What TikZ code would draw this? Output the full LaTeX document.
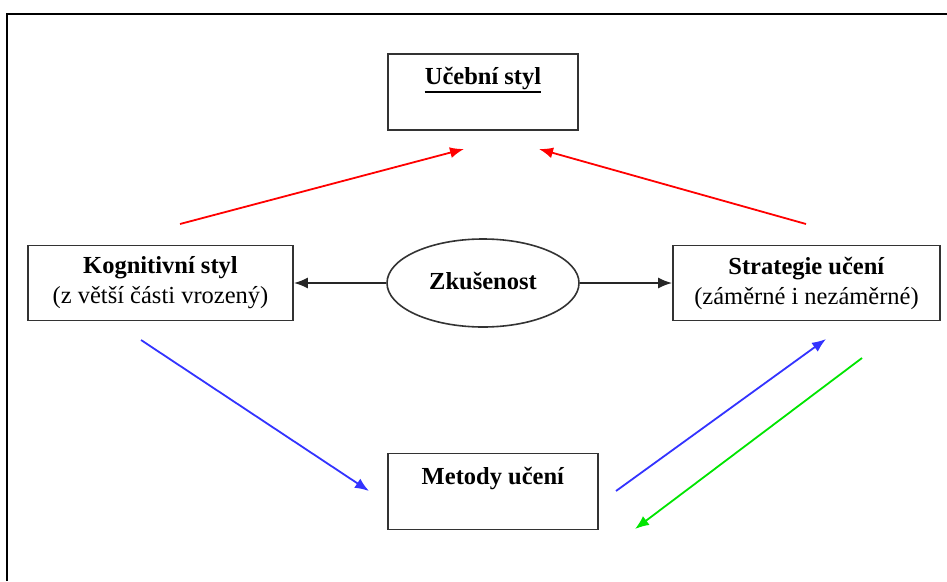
\documentclass[tikz,border=0pt]{standalone}
\usepackage{fontspec}
\setmainfont{Liberation Serif}
\usetikzlibrary{arrows.meta,shapes.geometric}
\begin{document}
\begin{tikzpicture}[x=1pt,y=-1pt,
  box/.style={draw=black!80,line width=1.8pt,rectangle,inner sep=0pt},
  oval/.style={draw=black!80,line width=1.6pt,ellipse,inner sep=0pt},
  txt/.style={inner sep=0pt,align=center,font=\fontsize{24.5}{30}\selectfont},
  conn/.style={line width=1.8pt,-{Latex[length=14pt,width=11pt]}},
  frameline/.style={line width=2.4pt,black}]
\useasboundingbox (0,0) rectangle (947,581);
\fill[white] (0,0) rectangle (947,581);
% frame
\coordinate (f1) at (7,581);
\coordinate (f2) at (7,14);
\coordinate (f3) at (947,14);
\draw[frameline] (f1) -- (f2) -- (f3);
% boxes
\node[box,minimum width=190pt,minimum height=76pt] (uc) at (483,92) {};
\node[txt] (uct) at (483,79) {\textbf{Učební styl}};
\draw[line width=2.4pt] ([yshift=-1.5pt]uct.south west) -- ([yshift=-1.5pt]uct.south east);
\node[box,txt,minimum width=265pt,minimum height=75pt] (kog) at (160.5,283)
  {\textbf{Kognitivní styl}\\(z větší části vrozený)};
\node[box,txt,minimum width=267pt,minimum height=75pt] (str) at (806.5,283)
  {\textbf{Strategie učení}\\(záměrné i nezáměrné)};
\node[oval,minimum width=192pt,minimum height=88pt] (el) at (483,283) {};
\node[txt] (elt) at (483,281) {\textbf{Zkušenost}};
\node[box,minimum width=210pt,minimum height=76pt] (met) at (493,491.5) {};
\node[txt] (mett) at (493,478) {\textbf{Metody učení}};
% black connectors
\draw[conn,black!85] (el.west) -- (kog.east);
\draw[conn,black!85] (el.east) -- (str.west);
% free-ended connectors
\coordinate (r1s) at (180,224); \coordinate (r1e) at (464,149);
\coordinate (r2s) at (806,224); \coordinate (r2e) at (539,149);
\coordinate (b1s) at (141,340); \coordinate (b1e) at (369,491);
\coordinate (b2s) at (616,491); \coordinate (b2e) at (826,339);
\coordinate (g1s) at (862,358); \coordinate (g1e) at (635,529);
\draw[conn,red] (r1s) -- (r1e);
\draw[conn,red] (r2s) -- (r2e);
\draw[conn,blue!80!white] (b1s) -- (b1e);
\draw[conn,blue!80!white] (b2s) -- (b2e);
\draw[conn,green!90!black] (g1s) -- (g1e);
\end{tikzpicture}
\end{document}
